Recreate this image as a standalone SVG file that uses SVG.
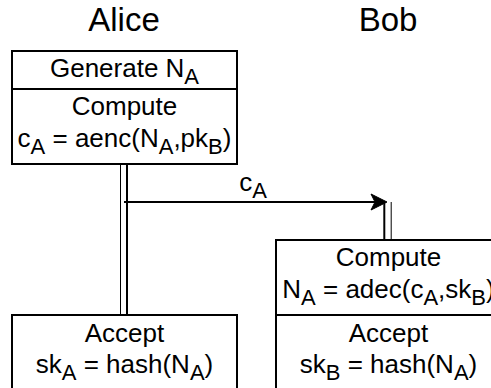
<svg xmlns="http://www.w3.org/2000/svg" width="491" height="388" viewBox="0 0 491 388">
<style>
text{font-family:"Liberation Sans",Arial,Helvetica,sans-serif;fill:#000;text-anchor:middle}
.t{font-size:26px}
.h{font-size:33px}
.s{font-size:22px}
.box{fill:#fff;stroke:#000;stroke-width:2}
.ln{stroke:#000;fill:none}
</style>
<rect width="491" height="388" fill="#fff"/>
<g id="title-alice"><text class="h" x="124" y="31">Alice</text></g>
<g id="title-bob"><text class="h" x="388" y="31">Bob</text></g>
<g id="connectors">
<line class="ln" x1="120.5" y1="164" x2="120.5" y2="315" stroke-width="1"/>
<line class="ln" x1="127" y1="164" x2="127" y2="315" stroke-width="2"/>
<line class="ln" x1="384.3" y1="202" x2="384.3" y2="240" stroke-width="2"/>
<line class="ln" x1="391.2" y1="202" x2="391.2" y2="240" stroke-width="1"/>
<line class="ln" x1="124" y1="202" x2="376" y2="202" stroke-width="2"/>
<path d="M387,202 L371,194 L375,202 L371,210 Z" fill="#000" stroke="#000" stroke-width="1" stroke-linejoin="miter"/>
<text class="t" x="253" y="191">c<tspan class="s" dy="7">A</tspan></text>
</g>
<g id="alice-top">
<rect class="box" x="12" y="51" width="225" height="113"/>
<line class="ln" x1="12" y1="89" x2="237" y2="89" stroke-width="2"/>
<text class="t" x="124.5" y="77">Generate N<tspan class="s" dy="7">A</tspan></text>
<text class="t" x="124.5" y="115">Compute</text>
<text class="t" x="124.5" y="147">c<tspan class="s" dy="7">A</tspan><tspan dy="-7"> = aenc(N</tspan><tspan class="s" dy="7">A</tspan><tspan dy="-7">,pk</tspan><tspan class="s" dy="7">B</tspan><tspan dy="-7">)</tspan></text>
</g>
<g id="alice-accept">
<rect class="box" x="12" y="315" width="225" height="100"/>
<text class="t" x="124.5" y="342">Accept</text>
<text class="t" x="124.5" y="373">sk<tspan class="s" dy="7">A</tspan><tspan dy="-7"> = hash(N</tspan><tspan class="s" dy="7">A</tspan><tspan dy="-7">)</tspan></text>
</g>
<g id="bob-box">
<rect class="box" x="276" y="240" width="225" height="200"/>
<line class="ln" x1="276" y1="315" x2="501" y2="315" stroke-width="2"/>
<text class="t" x="388.5" y="266">Compute</text>
<text class="t" x="388.5" y="298">N<tspan class="s" dy="7">A</tspan><tspan dy="-7"> = adec(c</tspan><tspan class="s" dy="7">A</tspan><tspan dy="-7">,sk</tspan><tspan class="s" dy="7">B</tspan><tspan dy="-7">)</tspan></text>
<text class="t" x="388.5" y="342">Accept</text>
<text class="t" x="388.5" y="373">sk<tspan class="s" dy="7">B</tspan><tspan dy="-7"> = hash(N</tspan><tspan class="s" dy="7">A</tspan><tspan dy="-7">)</tspan></text>
</g>
</svg>
